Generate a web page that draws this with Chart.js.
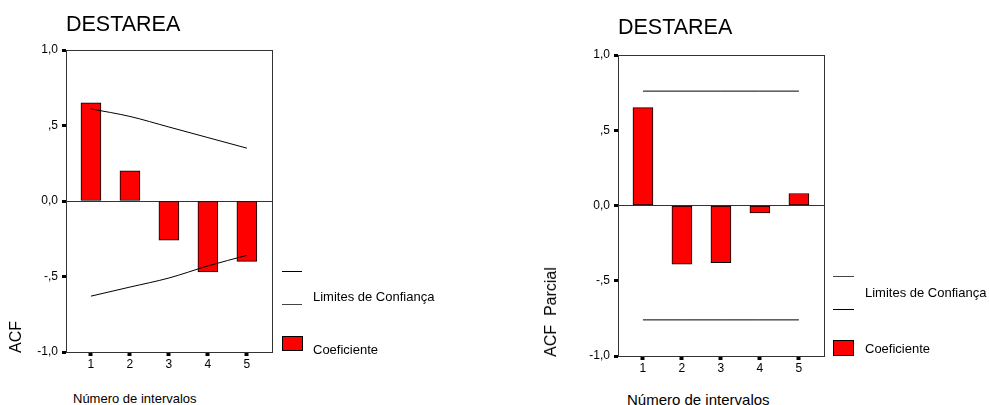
<!DOCTYPE html>
<html>
<head>
<meta charset="utf-8">
<script src="https://cdn.jsdelivr.net/npm/chart.js@4/dist/chart.umd.min.js"></script>
<style>
    body {
        margin: 0;
        width: 989px;
        height: 405px;
        background: #fff;
        position: relative;
        overflow: hidden;
        font-family: Arial, "Liberation Sans", sans-serif;
        color: #000;
    }
    canvas { position: absolute; top: 0; }
    .txt { position: absolute; line-height: 1; white-space: nowrap; }
    .vtxt { position: absolute; line-height: 1; white-space: nowrap; transform: translate(-50%, -50%) rotate(-90deg); }
    .lg-line { position: absolute; height: 1px; }
    .lg-box { position: absolute; box-sizing: border-box; background: #ff0000; border: 1px solid #000; }
</style>
</head>
<body>
<canvas id="acfChart" width="290" height="385" style="left:0px"></canvas>
<canvas id="pacfChart" width="300" height="385" style="left:540px"></canvas>

<div class="txt" style="left:66px; top:13.5px; font-size:21.5px;">DESTAREA</div>
<div class="vtxt" style="left:16px; top:337px; font-size:16px;">ACF</div>
<div class="txt" style="left:73px; top:392px; font-size:13px;">Número de intervalos</div>
<div class="lg-line" style="left:282px; top:271px; width:20px; background:#000;"></div>
<div class="lg-line" style="left:282px; top:304px; width:20px; background:#444;"></div>
<div class="txt" style="left:313px; top:290px; font-size:13px;">Limites de Confiança</div>
<div class="lg-box" style="left:282px; top:336px; width:21px; height:15px;"></div>
<div class="txt" style="left:313px; top:343px; font-size:13px;">Coeficiente</div>

<div class="txt" style="left:618px; top:16.5px; font-size:21.5px;">DESTAREA</div>
<div class="vtxt" style="left:551px; top:312px; font-size:16px;">ACF&nbsp;&nbsp;Parcial</div>
<div class="txt" style="left:627px; top:391.5px; font-size:15px;">Número de intervalos</div>
<div class="lg-line" style="left:833px; top:276px; width:21px; background:#444;"></div>
<div class="lg-line" style="left:833px; top:309px; width:21px; background:#000;"></div>
<div class="txt" style="left:865px; top:286px; font-size:13px;">Limites de Confiança</div>
<div class="lg-box" style="left:833px; top:340px; width:21px; height:16px;"></div>
<div class="txt" style="left:865px; top:341.5px; font-size:13px;">Coeficiente</div>

<script>
const lags = [1, 2, 3, 4, 5];
const yTickValues = [-1, -0.5, 0, 0.5, 1];
const yTickLabels = ['-1,0', '-,5', '0,0', ',5', '1,0'];

// ACF (left)
const acfValues = [0.65, 0.20, -0.26, -0.47, -0.40];
const acfUpper = [0.61, 0.56, 0.49, 0.42, 0.35];
const acfLower = [-0.63, -0.57, -0.51, -0.43, -0.36];

// ACF parcial (right)
const pacfValues = [0.65, -0.39, -0.38, -0.05, 0.08];
const pacfUpper = [0.76, 0.76, 0.76, 0.76, 0.76];
const pacfLower = [-0.76, -0.76, -0.76, -0.76, -0.76];

const frameBox = {
    id: 'frameBox',
    afterDraw(chart) {
        const a = chart.chartArea;
        const ctx = chart.ctx;
        ctx.save();
        ctx.strokeStyle = '#333';
        ctx.lineWidth = 1;
        ctx.strokeRect(Math.round(a.left) + 0.5, Math.round(a.top) + 0.5,
            Math.round(a.right - a.left) - 1, Math.round(a.bottom - a.top));
        ctx.restore();
    }
};

function toPoints(values) {
    return lags.map((x, i) => ({ x: x, y: values[i] }));
}

function makeChart(id, values, upper, lower, layout) {
    const ctx = document.getElementById(id);
    const limitLine = (data) => ({
        type: 'line',
        data: toPoints(data),
        borderColor: '#000',
        borderWidth: 1,
        pointRadius: 0,
        cubicInterpolationMode: 'monotone',
        order: 0
    });

    return new Chart(ctx, {
        type: 'bar',
        data: {
            datasets: [
                {
                    label: 'Coeficiente',
                    data: toPoints(values),
                    backgroundColor: '#ff0000',
                    borderColor: '#000',
                    borderWidth: 1,
                    borderSkipped: false,
                    barThickness: 20,
                    order: 1
                },
                limitLine(upper),
                limitLine(lower)
            ]
        },
        options: {
            responsive: false,
            animation: false,
            layout: {
                padding: { top: layout.top, right: layout.right, left: 0, bottom: 0 }
            },
            plugins: {
                legend: { display: false },
                tooltip: { enabled: false }
            },
            scales: {
                x: {
                    type: 'linear',
                    min: 0.36,
                    max: 5.67,
                    offset: false,
                    afterBuildTicks: (axis) => {
                        axis.ticks = lags.map(v => ({ value: v }));
                    },
                    afterFit: (axis) => { axis.height = layout.xHeight; },
                    border: { display: false },
                    grid: {
                        offset: false,
                        drawOnChartArea: false,
                        tickLength: 4,
                        tickWidth: 4,
                        tickColor: '#000'
                    },
                    ticks: {
                        autoSkip: false,
                        maxRotation: 0,
                        padding: 1,
                        color: '#000',
                        font: { family: 'Arial, "Liberation Sans"', size: layout.tickSize },
                        callback: (v) => String(v)
                    }
                },
                y: {
                    min: -1,
                    max: 1,
                    afterBuildTicks: (axis) => {
                        axis.ticks = yTickValues.map(v => ({ value: v }));
                    },
                    afterFit: (axis) => { axis.width = layout.yWidth; },
                    border: { display: false },
                    grid: {
                        color: (c) => (c.tick && c.tick.value === 0 ? '#333' : 'transparent'),
                        lineWidth: 1,
                        tickLength: 4,
                        tickWidth: 3,
                        tickColor: '#000'
                    },
                    ticks: {
                        padding: 4,
                        color: '#000',
                        font: { family: 'Arial, "Liberation Sans"', size: layout.tickSize },
                        callback: (v) => yTickLabels[yTickValues.indexOf(v)]
                    }
                }
            }
        },
        plugins: [frameBox]
    });
}

makeChart('acfChart', acfValues, acfUpper, acfLower,
    { top: 50, right: 17, yWidth: 66, xHeight: 33, tickSize: 12 });
makeChart('pacfChart', pacfValues, pacfUpper, pacfLower,
    { top: 55, right: 15, yWidth: 78, xHeight: 29, tickSize: 12 });
</script>
</body>
</html>
